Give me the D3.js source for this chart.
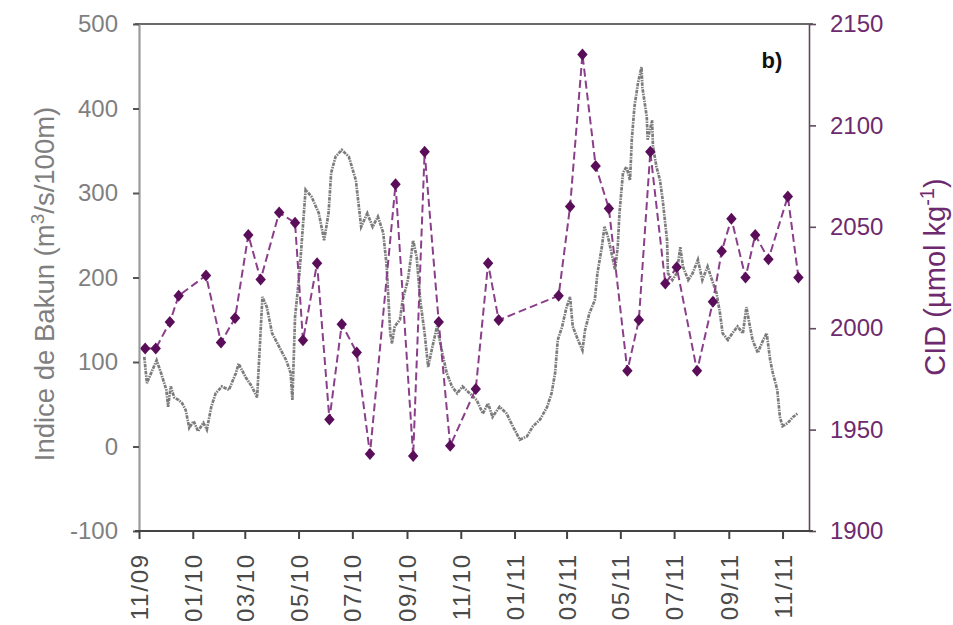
<!DOCTYPE html>
<html>
<head>
<meta charset="utf-8">
<script src="https://cdn.jsdelivr.net/npm/d3@7"></script>
<style>
  body { margin: 0; background: #fff; }
  svg { display: block; }
  text { font-family: Arial, "Liberation Sans", sans-serif; }
</style>
</head>
<body>
<svg id="chart" width="953" height="625"></svg>
<script>
// Dissolved inorganic carbon (CID) samples
const cidDates = ["2009-11-08","2009-11-20","2009-12-06","2009-12-16","2010-01-16","2010-02-02","2010-02-18","2010-03-05","2010-03-19","2010-04-09","2010-04-27","2010-05-06","2010-05-22","2010-06-05","2010-06-19","2010-07-06","2010-07-21","2010-08-19","2010-09-08","2010-09-21","2010-10-07","2010-10-20","2010-11-18","2010-12-02","2010-12-14","2011-02-20","2011-03-05","2011-03-19","2011-04-03","2011-04-18","2011-05-09","2011-05-22","2011-06-04","2011-06-21","2011-07-04","2011-07-27","2011-08-14","2011-08-24","2011-09-04","2011-09-20","2011-10-01","2011-10-16","2011-11-07","2011-11-19"];
const cidValues = [1990,1990,2003,2016,2026,1993,2005,2046,2024,2057,2052,1994,2032,1955,2002,1988,1938,2071,1937,2087,2003,1942,1970,2032,2004,2016,2060,2135,2080,2059,1979,2004,2087,2022,2030,1979,2013,2038,2054,2025,2046,2034,2065,2025];

// Bakun upwelling index (m3/s/100m)
const bakunDates = ["2009-11-07","2009-11-10","2009-11-16","2009-11-21","2009-11-26","2009-12-02","2009-12-04","2009-12-07","2009-12-11","2009-12-16","2009-12-20","2009-12-24","2009-12-28","2010-01-02","2010-01-07","2010-01-13","2010-01-17","2010-01-22","2010-01-27","2010-02-03","2010-02-11","2010-02-19","2010-02-22","2010-03-02","2010-03-09","2010-03-15","2010-03-21","2010-03-26","2010-04-01","2010-04-09","2010-04-17","2010-04-22","2010-04-24","2010-04-27","2010-05-02","2010-05-09","2010-05-16","2010-05-24","2010-05-30","2010-06-04","2010-06-07","2010-06-12","2010-06-19","2010-06-27","2010-07-05","2010-07-11","2010-07-18","2010-07-24","2010-07-30","2010-08-05","2010-08-09","2010-08-13","2010-08-15","2010-08-18","2010-08-24","2010-08-27","2010-09-02","2010-09-08","2010-09-12","2010-09-16","2010-09-21","2010-09-25","2010-09-29","2010-10-05","2010-10-11","2010-10-16","2010-10-22","2010-10-28","2010-11-03","2010-11-11","2010-11-19","2010-11-26","2010-12-02","2010-12-07","2010-12-15","2010-12-23","2010-12-30","2011-01-07","2011-01-15","2011-01-22","2011-01-30","2011-02-07","2011-02-12","2011-02-16","2011-02-19","2011-02-24","2011-03-01","2011-03-05","2011-03-08","2011-03-14","2011-03-19","2011-03-22","2011-03-27","2011-04-02","2011-04-05","2011-04-10","2011-04-13","2011-04-17","2011-04-21","2011-04-25","2011-04-28","2011-04-30","2011-05-04","2011-05-08","2011-05-12","2011-05-14","2011-05-17","2011-05-21","2011-05-25","2011-05-26","2011-05-31","2011-06-01","2011-06-06","2011-06-07","2011-06-11","2011-06-15","2011-06-18","2011-06-23","2011-06-24","2011-06-29","2011-07-04","2011-07-08","2011-07-11","2011-07-17","2011-07-22","2011-07-28","2011-08-02","2011-08-08","2011-08-13","2011-08-18","2011-08-22","2011-08-25","2011-08-31","2011-09-05","2011-09-11","2011-09-17","2011-09-21","2011-09-25","2011-09-28","2011-10-04","2011-10-10","2011-10-14","2011-10-18","2011-10-21","2011-10-26","2011-10-29","2011-11-01","2011-11-07","2011-11-13","2011-11-18"];
const bakunValues = [106,75,90,102,87,67,47,71,58,55,51,43,22,30,18,28,20,47,63,71,67,87,98,82,71,58,177,165,134,118,102,87,55,153,205,304,295,276,244,276,324,343,351,343,315,260,276,260,272,253,213,134,122,142,150,173,197,244,224,173,134,94,114,142,111,87,71,63,71,63,55,39,51,35,47,39,24,8,12,24,32,47,63,87,126,142,165,177,142,126,114,138,158,173,205,236,260,248,229,209,236,276,324,331,315,363,402,430,449,425,390,363,386,355,331,315,292,244,205,197,205,236,213,197,205,221,197,213,197,182,158,134,126,134,142,134,165,142,126,111,126,134,102,87,67,35,24,28,35,39];

// Axis ticks
const leftTicks = [-100, 0, 100, 200, 300, 400, 500];
const rightTicks = [1900, 1950, 2000, 2050, 2100, 2150];
const monthTicks = ["2009-11-01","2010-01-01","2010-03-01","2010-05-01","2010-07-01","2010-09-01","2010-11-01","2011-01-01","2011-03-01","2011-05-01","2011-07-01","2011-09-01","2011-11-01"];
const xDomain = ["2009-11-01", "2011-12-01"];

const parse = d3.timeParse("%Y-%m-%d");
const plain = d => String(d);
const svg = d3.select("#chart");

const plot = { left: 139, right: 809, top: 24, bottom: 531 };

const x = d3.scaleTime().domain(xDomain.map(parse)).range([plot.left, plot.right]);
const yL = d3.scaleLinear().domain([-100, 500]).range([plot.bottom, plot.top]);
const yR = d3.scaleLinear().domain([1900, 2150]).range([plot.bottom, plot.top]);

const purple = "#6e2a6e";
const grayText = "#7f7f7f";

const bakun = bakunDates.map((d, i) => ({ date: parse(d), value: bakunValues[i] }));
const cid = cidDates.map((d, i) => ({ date: parse(d), value: cidValues[i] }));

// Top frame line
svg.append("line")
  .attr("x1", plot.left - 4).attr("x2", plot.right + 4)
  .attr("y1", plot.top).attr("y2", plot.top)
  .attr("stroke", "#6a6a6a").attr("stroke-width", 2.2);

// Bakun index line
svg.append("path")
  .datum(bakun)
  .attr("fill", "none")
  .attr("stroke", "#7c7c7c")
  .attr("stroke-width", 2.7)
  .attr("stroke-dasharray", "3.5,1,1.5,1")
  .attr("d", d3.line().x(d => x(d.date)).y(d => yL(d.value)));

// CID dashed line
svg.append("path")
  .datum(cid)
  .attr("fill", "none")
  .attr("stroke", "#8a3f8a")
  .attr("stroke-width", 2)
  .attr("stroke-dasharray", "8,4")
  .attr("d", d3.line().x(d => x(d.date)).y(d => yR(d.value)));

// CID diamond markers
svg.append("g").selectAll("path")
  .data(cid)
  .join("path")
  .attr("transform", d => `translate(${x(d.date)},${yR(d.value)})`)
  .attr("d", "M0,-6L5.2,0L0,6L-5.2,0Z")
  .attr("fill", "#5a0e5a");

// Left axis
const gL = svg.append("g")
  .attr("transform", `translate(${plot.left},0)`)
  .call(d3.axisLeft(yL).tickValues(leftTicks).tickFormat(plain)
    .tickSize(6).tickSizeOuter(0).tickPadding(15));
gL.select(".domain").attr("stroke", "#9a9a9a").attr("stroke-width", 2.2);
gL.selectAll(".tick line").attr("stroke", "#555").attr("stroke-width", 2);
gL.selectAll(".tick text").attr("fill", grayText).attr("font-size", 24);

// Right axis
const gR = svg.append("g")
  .attr("transform", `translate(${plot.right},0)`)
  .call(d3.axisRight(yR).tickValues(rightTicks).tickFormat(plain)
    .tickSize(7).tickSizeOuter(0).tickPadding(14));
gR.select(".domain").attr("stroke", "#5e4a5e").attr("stroke-width", 1.6);
gR.selectAll(".tick line").attr("stroke", "#5e4a5e").attr("stroke-width", 1.6);
gR.selectAll(".tick text").attr("fill", purple).attr("font-size", 24);

// Bottom axis
const gB = svg.append("g")
  .attr("transform", `translate(0,${plot.bottom})`)
  .call(d3.axisBottom(x).tickValues(monthTicks.map(parse))
    .tickFormat(d3.timeFormat("%m/%y")).tickSize(8).tickSizeOuter(0));
gB.select(".domain").attr("stroke", "#444").attr("stroke-width", 2.2)
  .attr("d", `M${plot.left - 4},0H${plot.right + 4}`);
gB.selectAll(".tick line").attr("stroke", "#444").attr("stroke-width", 2);
gB.selectAll(".tick text")
  .attr("fill", "#4a4a4a")
  .attr("font-size", 24)
  .attr("letter-spacing", 1.8)
  .attr("text-anchor", "end")
  .attr("transform", "rotate(-90)")
  .attr("x", -22)
  .attr("y", 0)
  .attr("dy", "0.36em");

// Left axis title
const tL = svg.append("text")
  .attr("transform", "translate(54,284) rotate(-90)")
  .attr("text-anchor", "middle")
  .attr("fill", grayText)
  .attr("font-size", 27.5);
tL.append("tspan").text("Indice de Bakun (m");
tL.append("tspan").attr("dy", -10).attr("font-size", 19).text("3");
tL.append("tspan").attr("dy", 10).text("/s/100m)");

// Right axis title
const tR = svg.append("text")
  .attr("transform", "translate(945,277) rotate(-90)")
  .attr("text-anchor", "middle")
  .attr("fill", purple)
  .attr("font-size", 29);
tR.append("tspan").text("CID (\u00b5mol kg");
tR.append("tspan").attr("dy", -11).attr("font-size", 20).text("-1");
tR.append("tspan").attr("dy", 11).text(")");

// Panel label
svg.append("text")
  .attr("x", 772).attr("y", 68)
  .attr("text-anchor", "middle")
  .attr("font-family", "'DejaVu Sans', Verdana, sans-serif")
  .attr("font-weight", "bold")
  .attr("font-size", 22)
  .attr("fill", "#111")
  .text("b)");
</script>
</body>
</html>
